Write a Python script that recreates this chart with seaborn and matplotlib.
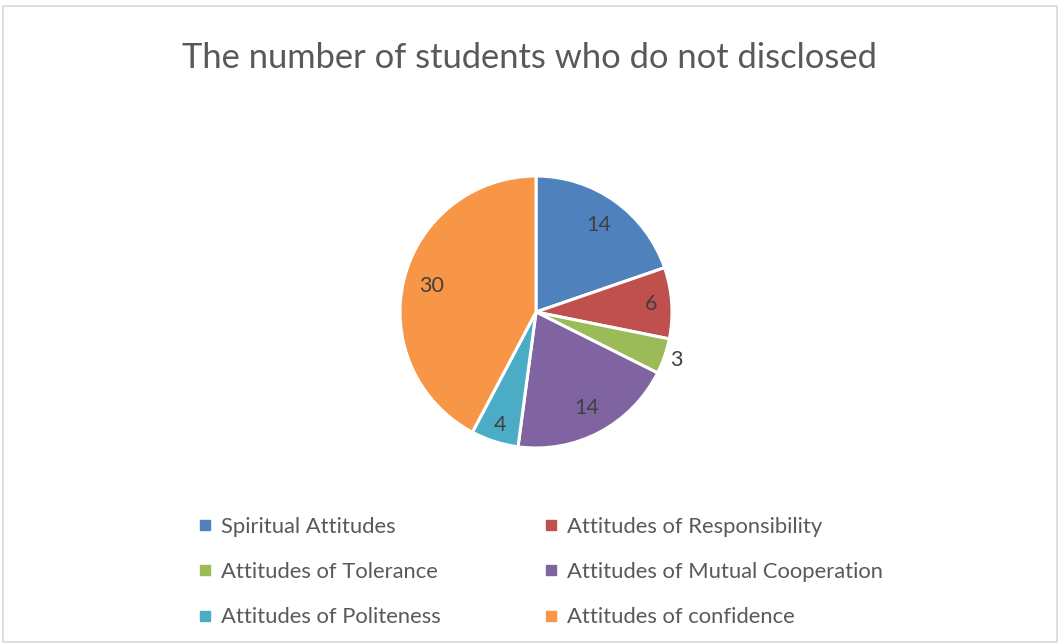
import matplotlib
matplotlib.use("Agg")
import matplotlib.pyplot as plt
from matplotlib.lines import Line2D
from matplotlib.patches import Rectangle
import numpy as np
import seaborn as sns

categories = [
    "Spiritual Attitudes",
    "Attitudes of Responsibility",
    "Attitudes of Tolerance",
    "Attitudes of Mutual Cooperation",
    "Attitudes of Politeness",
    "Attitudes of confidence",
]
values = [14, 6, 3, 14, 4, 30]
colors = ["#4F81BD", "#C0504D", "#9BBB59", "#8064A2", "#4BACC6", "#F79646"]
title = "The number of students who do not disclosed"

# radial position of each value label (fraction of the radius)
label_radius = [0.79, 0.85, 1.09, 0.80, 0.87, 0.79]

sns.set_theme(style="white")
plt.rcParams["font.family"] = ["Lato", "DejaVu Sans"]

W, H = 1059, 644
fig = plt.figure(figsize=(W / 100, H / 100), dpi=100)
fig.patch.set_facecolor("white")

# thin frame around the chart area
fig.patches.append(Rectangle((3 / W, 2 / H), (W - 5) / W, (H - 8) / H,
                             transform=fig.transFigure, fill=False,
                             edgecolor="#D9D9D9", linewidth=1.2))

cx, cy, r = 536, 312, 136
ax = fig.add_axes([(cx - r) / W, (H - cy - r) / H, 2 * r / W, 2 * r / H])
wedges, _ = ax.pie(values, colors=colors, startangle=90, counterclock=False,
                   radius=1.0,
                   wedgeprops=dict(edgecolor="white", linewidth=2.2))
ax.set_xlim(-1, 1)
ax.set_ylim(-1, 1)
ax.set_aspect("equal")
ax.axis("off")

for w, v, rf in zip(wedges, values, label_radius):
    mid = np.deg2rad((w.theta1 + w.theta2) / 2)
    ax.text(rf * np.cos(mid), rf * np.sin(mid), str(v),
            ha="center", va="center", fontsize=15.5, color="#404040")

fig.text(0.5, (H - 58) / H, title, ha="center", va="center",
         fontsize=24.8, color="#595959")

handles = [Line2D([], [], linestyle="none", marker="s", markersize=6.5,
                  markerfacecolor=c, markeredgecolor=c) for c in colors]
order = [0, 2, 4, 1, 3, 5]
leg = fig.legend([handles[i] for i in order], [categories[i] for i in order],
                 ncol=2, loc="center", bbox_to_anchor=(541 / W, (H - 572) / H),
                 frameon=False, fontsize=15.8, labelcolor="#595959",
                 handlelength=0.55, handletextpad=0.45, columnspacing=4.75,
                 labelspacing=1.15)

fig.savefig("out.png", dpi=100, facecolor="white")
